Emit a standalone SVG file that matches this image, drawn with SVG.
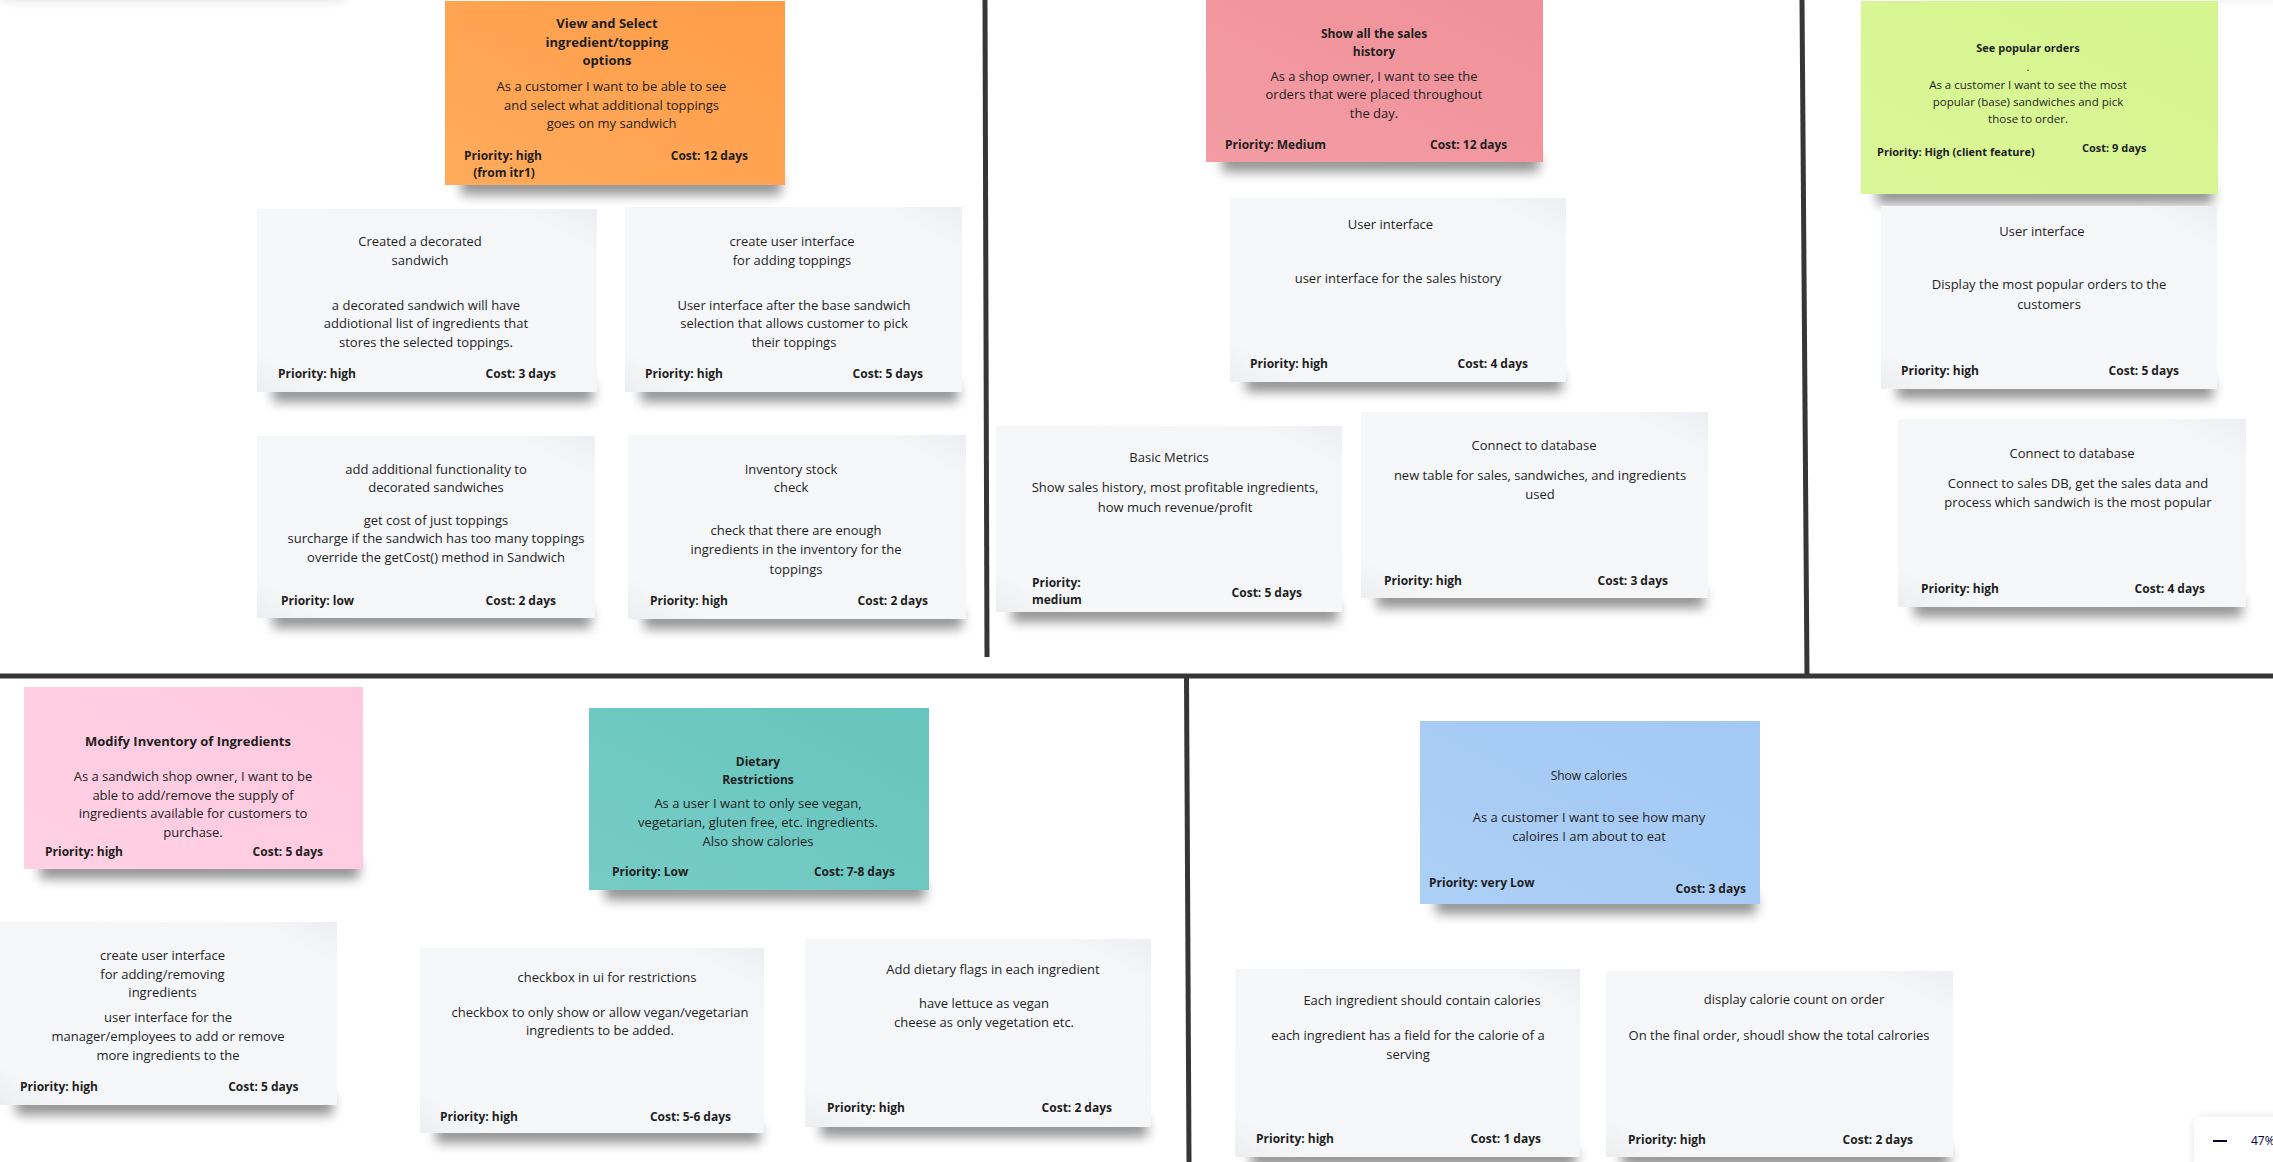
<svg xmlns="http://www.w3.org/2000/svg" width="2273" height="1162" viewBox="0 0 2273 1162">
<defs>
<filter id="blur" x="-20%" y="-200%" width="140%" height="500%"><feGaussianBlur stdDeviation="6"/></filter>
<linearGradient id="gray" x1="1" y1="0" x2="0" y2="1"><stop offset="0" stop-color="#eceef1"/><stop offset="0.12" stop-color="#f5f6f8"/><stop offset="0.88" stop-color="#f6f7f9"/><stop offset="1" stop-color="#eceef0"/></linearGradient>
<linearGradient id="orange" x1="1" y1="0" x2="0" y2="1"><stop offset="0" stop-color="#ff9c47"/><stop offset="1" stop-color="#ffab5c"/></linearGradient>
<linearGradient id="rose" x1="1" y1="0" x2="0" y2="1"><stop offset="0" stop-color="#f09199"/><stop offset="1" stop-color="#f39ca4"/></linearGradient>
<linearGradient id="lime" x1="1" y1="0" x2="0" y2="1"><stop offset="0" stop-color="#d5f58f"/><stop offset="1" stop-color="#daf797"/></linearGradient>
<linearGradient id="pink" x1="1" y1="0" x2="0" y2="1"><stop offset="0" stop-color="#fec9df"/><stop offset="1" stop-color="#ffd0e3"/></linearGradient>
<linearGradient id="teal" x1="1" y1="0" x2="0" y2="1"><stop offset="0" stop-color="#66c5be"/><stop offset="1" stop-color="#76ccc5"/></linearGradient>
<linearGradient id="blue" x1="1" y1="0" x2="0" y2="1"><stop offset="0" stop-color="#a3c9f3"/><stop offset="1" stop-color="#accff6"/></linearGradient>
</defs>
<style>
text{font-family:"Open Sans","Noto Sans","Liberation Sans",sans-serif;fill:#1e1e1e}
.b{font-size:13px;text-anchor:middle}
.h{font-size:13px;font-weight:bold;text-anchor:middle}
.h12{font-size:12px;font-weight:bold;text-anchor:middle}
.f{font-size:12px;font-weight:bold}
.fe{font-size:12px;font-weight:bold;text-anchor:end}
.fm{font-size:12px;font-weight:bold;text-anchor:middle}
.sb{font-size:11.5px;text-anchor:middle}
.sh11{font-size:11px;font-weight:bold;text-anchor:middle}
.sf{font-size:11px;font-weight:bold}
.shadow{fill:#000;opacity:.42;filter:url(#blur)}
.card{fill:url(#gray)}
.div{stroke:#363636;stroke-width:5;fill:none}
</style>
<rect width="2273" height="1162" fill="#ffffff"/>
<rect x="0" y="-14" width="345" height="14" fill="#000" opacity=".12" filter="url(#blur)"/>
<rect x="1925" y="-14" width="360" height="14" fill="#000" opacity=".08" filter="url(#blur)"/>

<g id="dividers">
<line class="div" x1="985" y1="0" x2="987" y2="657"/>
<line class="div" x1="1802" y1="0" x2="1807" y2="676"/>
<line class="div" x1="0" y1="676" x2="2273" y2="676"/>
<line class="div" x1="1186.5" y1="676" x2="1189" y2="1162"/>
</g>

<g id="n-view-select">
<rect class="shadow" x="461" y="175" width="320" height="20"/>
<rect x="445" y="1" width="340" height="184" fill="url(#orange)"/>
<text class="h" x="607" y="28">View and Select</text>
<text class="h" x="607" y="47">ingredient/topping</text>
<text class="h" x="607" y="65">options</text>
<text class="b" x="611.5" y="91">As a customer I want to be able to see</text>
<text class="b" x="611.5" y="110">and select what additional toppings</text>
<text class="b" x="611.5" y="128">goes on my sandwich</text>
<text class="f" x="464" y="160">Priority: high</text>
<text class="fm" x="504" y="177">(from itr1)</text>
<text class="fe" x="748" y="160">Cost: 12 days</text>
</g>

<g id="n-sales-history">
<rect class="shadow" x="1222" y="152" width="317" height="20"/>
<rect x="1206" y="0" width="337" height="162" fill="url(#rose)"/>
<text class="h12" x="1374" y="38">Show all the sales</text>
<text class="h12" x="1374" y="56">history</text>
<text class="b" x="1374" y="80.5">As a shop owner, I want to see the</text>
<text class="b" x="1374" y="98.5">orders that were placed throughout</text>
<text class="b" x="1374" y="117.5">the day.</text>
<text class="f" x="1225" y="149">Priority: Medium</text>
<text class="f" x="1430" y="149">Cost: 12 days</text>
</g>

<g id="n-popular-orders">
<rect class="shadow" x="1877" y="184" width="336" height="20"/>
<rect x="1861" y="1" width="357" height="193" fill="url(#lime)"/>
<text class="sh11" x="2028" y="52">See popular orders</text>
<text class="sb" x="2028" y="71">.</text>
<text class="sb" x="2028" y="89">As a customer I want to see the most</text>
<text class="sb" x="2028" y="106">popular (base) sandwiches and pick</text>
<text class="sb" x="2028" y="123">those to order.</text>
<text class="sf" x="1877" y="156">Priority: High (client feature)</text>
<text class="sf" x="2082" y="152">Cost: 9 days</text>
</g>

<g id="n-decorated-sandwich">
<rect class="shadow" x="273" y="382" width="320" height="20"/>
<rect class="card" x="257" y="209" width="340" height="183"/>
<text class="b" x="420" y="245.5">Created a decorated</text>
<text class="b" x="420" y="264.5">sandwich</text>
<text class="b" x="426" y="309.5">a decorated sandwich will have</text>
<text class="b" x="426" y="327.5">addiotional list of ingredients that</text>
<text class="b" x="426" y="346.5">stores the selected toppings.</text>
<text class="f" x="278" y="378">Priority: high</text>
<text class="fe" x="556" y="378">Cost: 3 days</text>
</g>

<g id="n-toppings-ui">
<rect class="shadow" x="641" y="382" width="317" height="20"/>
<rect class="card" x="625" y="207" width="337" height="185"/>
<text class="b" x="792" y="245.5">create user interface</text>
<text class="b" x="792" y="264.5">for adding toppings</text>
<text class="b" x="794" y="309.5">User interface after the base sandwich</text>
<text class="b" x="794" y="327.5">selection that allows customer to pick</text>
<text class="b" x="794" y="346.5">their toppings</text>
<text class="f" x="645" y="378">Priority: high</text>
<text class="fe" x="923" y="378">Cost: 5 days</text>
</g>

<g id="n-additional-functionality">
<rect class="shadow" x="273" y="608" width="318" height="20"/>
<rect class="card" x="257" y="436" width="338" height="182"/>
<text class="b" x="436" y="473.5">add additional functionality to</text>
<text class="b" x="436" y="491.5">decorated sandwiches</text>
<text class="b" x="436" y="524.5">get cost of just toppings</text>
<text class="b" x="436" y="542.5">surcharge if the sandwich has too many toppings</text>
<text class="b" x="436" y="561.5">override the getCost() method in Sandwich</text>
<text class="f" x="281" y="605">Priority: low</text>
<text class="fe" x="556" y="605">Cost: 2 days</text>
</g>

<g id="n-inventory-check">
<rect class="shadow" x="644" y="609" width="318" height="20"/>
<rect class="card" x="628" y="435" width="338" height="184"/>
<text class="b" x="791" y="473.5">Inventory stock</text>
<text class="b" x="791" y="491.5">check</text>
<text class="b" x="796" y="534.5">check that there are enough</text>
<text class="b" x="796" y="553.5">ingredients in the inventory for the</text>
<text class="b" x="796" y="573.5">toppings</text>
<text class="f" x="650" y="605">Priority: high</text>
<text class="fe" x="928" y="605">Cost: 2 days</text>
</g>

<g id="n-sales-ui">
<rect class="shadow" x="1246" y="372" width="316" height="20"/>
<rect class="card" x="1230" y="198" width="336" height="184"/>
<text class="b" x="1390.5" y="228.5">User interface</text>
<text class="b" x="1398" y="282.5">user interface for the sales history</text>
<text class="f" x="1250" y="368">Priority: high</text>
<text class="fe" x="1528" y="368">Cost: 4 days</text>
</g>

<g id="n-basic-metrics">
<rect class="shadow" x="1012" y="602" width="326" height="20"/>
<rect class="card" x="996" y="426" width="346" height="186"/>
<text class="b" x="1169" y="461.5">Basic Metrics</text>
<text class="b" x="1175" y="491.5">Show sales history, most profitable ingredients,</text>
<text class="b" x="1175" y="511.5">how much revenue/profit</text>
<text class="f" x="1032" y="587">Priority:</text>
<text class="f" x="1032" y="604">medium</text>
<text class="fe" x="1302" y="597">Cost: 5 days</text>
</g>

<g id="n-sales-db">
<rect class="shadow" x="1377" y="588" width="327" height="20"/>
<rect class="card" x="1361" y="412" width="347" height="186"/>
<text class="b" x="1534" y="449.5">Connect to database</text>
<text class="b" x="1540" y="479.5">new table for sales, sandwiches, and ingredients</text>
<text class="b" x="1540" y="498.5">used</text>
<text class="f" x="1384" y="585">Priority: high</text>
<text class="fe" x="1668" y="585">Cost: 3 days</text>
</g>

<g id="n-popular-ui">
<rect class="shadow" x="1897" y="379" width="316" height="20"/>
<rect class="card" x="1881" y="206" width="336" height="183"/>
<text class="b" x="2042" y="235.5">User interface</text>
<text class="b" x="2049" y="288.5">Display the most popular orders to the</text>
<text class="b" x="2049" y="308.5">customers</text>
<text class="f" x="1901" y="375">Priority: high</text>
<text class="fe" x="2179" y="375">Cost: 5 days</text>
</g>

<g id="n-popular-db">
<rect class="shadow" x="1914" y="597" width="328" height="20"/>
<rect class="card" x="1898" y="419" width="348" height="188"/>
<text class="b" x="2072" y="457.5">Connect to database</text>
<text class="b" x="2078" y="487.5">Connect to sales DB, get the sales data and</text>
<text class="b" x="2078" y="506.5">process which sandwich is the most popular</text>
<text class="f" x="1921" y="593">Priority: high</text>
<text class="fe" x="2205" y="593">Cost: 4 days</text>
</g>

<g id="n-modify-inventory">
<rect class="shadow" x="40" y="859" width="319" height="20"/>
<rect x="24" y="687" width="339" height="182" fill="url(#pink)"/>
<text class="h" x="188" y="745.5">Modify Inventory of Ingredients</text>
<text class="b" x="193" y="780.5">As a sandwich shop owner, I want to be</text>
<text class="b" x="193" y="799.5">able to add/remove the supply of</text>
<text class="b" x="193" y="817.5">ingredients available for customers to</text>
<text class="b" x="193" y="836.5">purchase.</text>
<text class="f" x="45" y="856">Priority: high</text>
<text class="fe" x="323" y="856">Cost: 5 days</text>
</g>

<g id="n-dietary">
<rect class="shadow" x="605" y="880" width="320" height="20"/>
<rect x="589" y="708" width="340" height="182" fill="url(#teal)"/>
<text class="h12" x="758" y="766">Dietary</text>
<text class="h12" x="758" y="784">Restrictions</text>
<text class="b" x="758" y="807.5">As a user I want to only see vegan,</text>
<text class="b" x="758" y="826.5">vegetarian, gluten free, etc. ingredients.</text>
<text class="b" x="758" y="845.5">Also show calories</text>
<text class="f" x="612" y="876">Priority: Low</text>
<text class="fe" x="895" y="876">Cost: 7-8 days</text>
</g>

<g id="n-show-calories">
<rect class="shadow" x="1436" y="894" width="320" height="20"/>
<rect x="1420" y="721" width="340" height="183" fill="url(#blue)"/>
<text class="b" x="1589" y="780" style="font-size:12px">Show calories</text>
<text class="b" x="1589" y="821.5">As a customer I want to see how many</text>
<text class="b" x="1589" y="840.5">caloires I am about to eat</text>
<text class="f" x="1429" y="887">Priority: very Low</text>
<text class="fe" x="1746" y="893">Cost: 3 days</text>
</g>

<g id="n-inventory-ui">
<rect class="shadow" x="16" y="1095" width="317" height="20"/>
<rect class="card" x="0" y="922" width="337" height="183"/>
<text class="b" x="162.5" y="959.5">create user interface</text>
<text class="b" x="162.5" y="978.5">for adding/removing</text>
<text class="b" x="162.5" y="996.5">ingredients</text>
<text class="b" x="168" y="1021.5">user interface for the</text>
<text class="b" x="168" y="1040.5">manager/employees to add or remove</text>
<text class="b" x="168" y="1059.5">more ingredients to the</text>
<text class="f" x="20" y="1091">Priority: high</text>
<text class="fe" x="298.6" y="1091">Cost: 5 days</text>
</g>

<g id="n-checkbox-ui">
<rect class="shadow" x="436" y="1123" width="324" height="20"/>
<rect class="card" x="420" y="948" width="344" height="185"/>
<text class="b" x="607" y="981.5">checkbox in ui for restrictions</text>
<text class="b" x="600" y="1016.5">checkbox to only show or allow vegan/vegetarian</text>
<text class="b" x="600" y="1034.5">ingredients to be added.</text>
<text class="f" x="440" y="1121">Priority: high</text>
<text class="fe" x="731" y="1121">Cost: 5-6 days</text>
</g>

<g id="n-dietary-flags">
<rect class="shadow" x="821" y="1117" width="326" height="20"/>
<rect class="card" x="805" y="939" width="346" height="188"/>
<text class="b" x="993" y="973.5">Add dietary flags in each ingredient</text>
<text class="b" x="984" y="1007.5">have lettuce as vegan</text>
<text class="b" x="984" y="1026.5">cheese as only vegetation etc.</text>
<text class="f" x="827" y="1112">Priority: high</text>
<text class="fe" x="1112" y="1112">Cost: 2 days</text>
</g>

<g id="n-ingredient-calories">
<rect class="shadow" x="1251" y="1147" width="325" height="20"/>
<rect class="card" x="1235" y="969" width="345" height="188"/>
<text class="b" x="1422" y="1004.5">Each ingredient should contain calories</text>
<text class="b" x="1408" y="1039.5">each ingredient has a field for the calorie of a</text>
<text class="b" x="1408" y="1058.5">serving</text>
<text class="f" x="1256" y="1143">Priority: high</text>
<text class="fe" x="1541" y="1143">Cost: 1 days</text>
</g>

<g id="n-calorie-count">
<rect class="shadow" x="1622" y="1147" width="327" height="20"/>
<rect class="card" x="1606" y="971" width="347" height="186"/>
<text class="b" x="1794" y="1003.5">display calorie count on order</text>
<text class="b" x="1779" y="1039.5">On the final order, shoudl show the total calrories</text>
<text class="f" x="1628" y="1144">Priority: high</text>
<text class="fe" x="1913" y="1144">Cost: 2 days</text>
</g>

<g id="zoom-widget">
<rect x="2196" y="1119" width="90" height="50" rx="6" fill="#000" opacity=".15" filter="url(#blur)"/>
<rect x="2194" y="1117" width="90" height="50" rx="6" fill="#ffffff"/>
<rect x="2213" y="1140" width="14" height="2" fill="#050038"/>
<text x="2251" y="1145" style="font-size:12px;fill:#050038">47%</text>
</g>
</svg>
